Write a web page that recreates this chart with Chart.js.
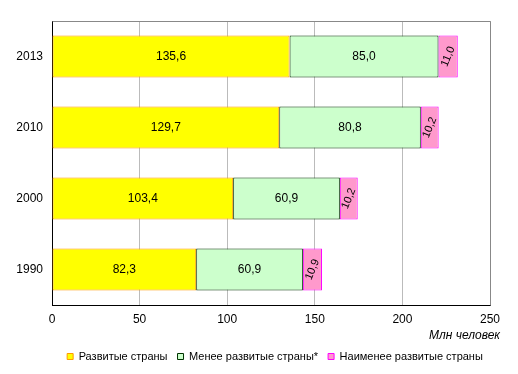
<!DOCTYPE html>
<html>
<head>
<meta charset="utf-8">
<script src="https://cdn.jsdelivr.net/npm/chart.js@4"></script>
<style>
  html, body { margin: 0; padding: 0; background: #fff; }
  #wrap { width: 518px; height: 374px; }
</style>
</head>
<body>
<div id="wrap"><canvas id="chart" width="518" height="374"></canvas></div>
<script>
const years = ["2013", "2010", "2000", "1990"];
const developed = [135.6, 129.7, 103.4, 82.3];
const lessDeveloped = [85.0, 80.8, 60.9, 60.9];
const leastDeveloped = [11.0, 10.2, 10.2, 10.9];
const xTicks = [0, 50, 100, 150, 200, 250];
const seriesNames = [
  "Развитые страны",
  "Менее развитые страны*",
  "Наименее развитые страны",
];
const axisTitle = "Млн человек";

const font = "'Liberation Sans', Arial, sans-serif";

function fmt(v) {
  return v.toFixed(1).replace(".", ",");
}

// value labels inside bars, the last series is rotated
const barLabels = {
  id: "barLabels",
  afterDatasetsDraw(chart) {
    const ctx = chart.ctx;
    ctx.save();
    ctx.fillStyle = "#000";
    ctx.font = "12px " + font;
    ctx.textAlign = "center";
    ctx.textBaseline = "middle";
    chart.data.datasets.forEach((ds, di) => {
      chart.getDatasetMeta(di).data.forEach((bar, i) => {
        const cx = (bar.x + bar.base) / 2;
        const cy = bar.y;
        const txt = fmt(ds.data[i]);
        if (di === 2) {
          ctx.save();
          ctx.translate(cx, cy);
          ctx.rotate(-68 * Math.PI / 180);
          ctx.font = "11px " + font;
          ctx.fillText(txt, 0, 0);
          ctx.restore();
        } else {
          ctx.fillText(txt, cx, cy);
        }
      });
    });
    ctx.restore();
  },
};

// gray frame on top/right, axis title, legend nudged to the right
const frame = {
  id: "frame",
  beforeDraw(chart) {
    const lg = chart.legend;
    lg.left = 30;
    lg.right = chart.width - 28 + 30;
  },
  beforeDatasetsDraw(chart) {
    const a = chart.chartArea;
    const ctx = chart.ctx;
    ctx.save();
    ctx.strokeStyle = "#888888";
    ctx.lineWidth = 1;
    ctx.beginPath();
    ctx.moveTo(Math.round(a.left) + 0.5, Math.round(a.top) + 0.5);
    ctx.lineTo(Math.round(a.right) + 0.5, Math.round(a.top) + 0.5);
    ctx.lineTo(Math.round(a.right) + 0.5, Math.round(a.bottom) + 0.5);
    ctx.stroke();
    ctx.restore();
  },
  afterDraw(chart) {
    const ctx = chart.ctx;
    ctx.save();
    ctx.fillStyle = "#000";
    ctx.font = "italic 12px " + font;
    ctx.textAlign = "right";
    ctx.textBaseline = "middle";
    ctx.fillText(axisTitle, 500, 336);
    ctx.restore();
  },
};

new Chart(document.getElementById("chart").getContext("2d"), {
  type: "bar",
  data: {
    labels: years,
    datasets: [
      {
        label: seriesNames[0],
        data: developed,
        backgroundColor: "#FFFF00",
        borderColor: "#FF9900",
      },
      {
        label: seriesNames[1],
        data: lessDeveloped,
        backgroundColor: "#CCFFCC",
        borderColor: "#003300",
      },
      {
        label: seriesNames[2],
        data: leastDeveloped,
        backgroundColor: "#FF99CC",
        borderColor: "#FF00FF",
      },
    ],
  },
  options: {
    responsive: false,
    animation: false,
    indexAxis: "y",
    layout: { padding: { top: 21, right: 28, left: 0, bottom: 2 } },
    datasets: {
      bar: {
        borderWidth: 1,
        borderSkipped: false,
        categoryPercentage: 1,
        barPercentage: 0.59,
      },
    },
    plugins: {
      legend: {
        position: "bottom",
        labels: {
          font: { family: font, size: 11 },
          color: "#000",
          boxWidth: 6,
          boxHeight: 6,
          padding: 10,
        },
      },
      tooltip: { enabled: false },
    },
    scales: {
      x: {
        stacked: true,
        min: 0,
        max: 250,
        afterBuildTicks(s) {
          s.ticks = xTicks.map((v) => ({ value: v }));
        },
        afterFit(s) {
          s.height = 36;
        },
        ticks: {
          font: { family: font, size: 12 },
          color: "#000",
          padding: 7,
          maxRotation: 0,
        },
        grid: { color: "#BBBBBB", drawTicks: false },
        border: { color: "#000", width: 1 },
      },
      y: {
        stacked: true,
        afterFit(s) {
          s.width = 52;
        },
        ticks: {
          font: { family: font, size: 12 },
          color: "#000",
          padding: 9,
        },
        grid: { display: false, drawTicks: false },
        border: { color: "#000", width: 1 },
      },
    },
  },
  plugins: [barLabels, frame],
});
</script>
</body>
</html>
